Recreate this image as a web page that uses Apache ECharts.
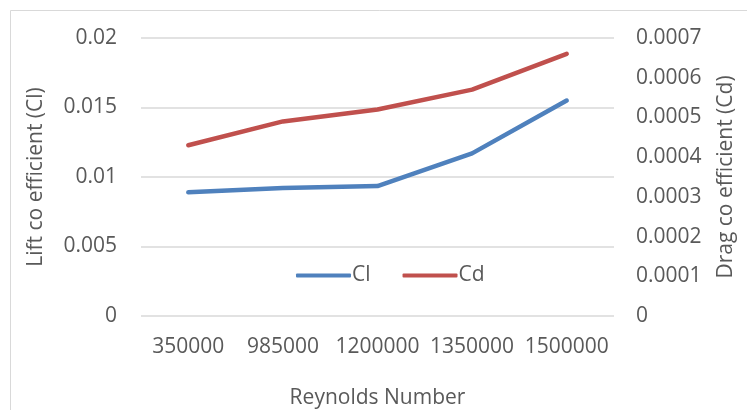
<!DOCTYPE html>
<html>
<head>
<meta charset="utf-8">
<script src="https://cdn.jsdelivr.net/npm/echarts@6/dist/echarts.min.js"></script>
<style>
  html, body { margin: 0; padding: 0; background: #ffffff; }
  #chart { width: 747px; height: 410px; }
</style>
</head>
<body>
<div id="chart"></div>
<script>
// Reynolds number categories and the two coefficient series
const reynolds = ['350000', '985000', '1200000', '1350000', '1500000'];
const liftCl = [0.0089, 0.0092, 0.00935, 0.0117, 0.0155];
const dragCd = [0.00043, 0.00049, 0.00052, 0.00057, 0.00066];

const textColor = '#595959';
const gridColor = '#d9d9d9';
const font = 'Open Sans';
const fs = 21;

const chart = echarts.init(document.getElementById('chart'), null, { renderer: 'canvas' });

chart.setOption({
  animation: false,
  backgroundColor: '#ffffff',
  textStyle: { fontFamily: font },
  graphic: [{
    type: 'rect',
    shape: { x: 10.5, y: 10.5, width: 900, height: 600 },
    style: { fill: 'none', stroke: gridColor, lineWidth: 1 },
    silent: true,
    z: -1
  }],
  grid: {
    left: 141, right: 133, top: 38, bottom: 94,
    containLabel: false, outerBoundsMode: 'none'
  },
  legend: {
    data: ['Cl', 'Cd'],
    left: 291,
    top: 260,
    itemWidth: 55,
    itemHeight: 4,
    itemGap: 32,
    icon: 'roundRect',
    textStyle: { color: textColor, fontSize: fs, fontFamily: font, padding: [0, 0, 0, -4] }
  },
  xAxis: {
    type: 'category',
    data: reynolds,
    boundaryGap: true,
    axisLine: { show: false },
    axisTick: { show: false },
    axisLabel: {
      color: textColor, fontSize: fs, fontFamily: font, margin: 21,
      interval: 0, hideOverlap: false
    },
    name: 'Reynolds Number',
    nameLocation: 'middle',
    nameGap: 72,
    nameTextStyle: { color: textColor, fontSize: fs, fontFamily: font }
  },
  yAxis: [{
    type: 'value',
    min: 0,
    max: 0.02,
    interval: 0.005,
    axisLine: { show: false },
    axisTick: { show: false },
    splitLine: { lineStyle: { color: gridColor, width: 1.5 } },
    axisLabel: { color: textColor, fontSize: fs, fontFamily: font, margin: 24 },
    name: 'Lift co efficient (Cl)',
    nameLocation: 'middle',
    nameGap: 94,
    nameRotate: 90,
    nameTextStyle: { color: textColor, fontSize: fs, fontFamily: font }
  }, {
    type: 'value',
    min: 0,
    max: 0.0007,
    interval: 0.0001,
    axisLine: { show: false },
    axisTick: { show: false },
    splitLine: { show: false },
    axisLabel: {
      color: textColor, fontSize: fs, fontFamily: font, margin: 22,
      formatter: v => v === 0 ? '0' : v.toFixed(4)
    },
    name: 'Drag co efficient (Cd)',
    nameLocation: 'middle',
    nameGap: 102,
    nameRotate: 90,
    nameTextStyle: { color: textColor, fontSize: fs, fontFamily: font }
  }],
  series: [{
    name: 'Cl',
    type: 'line',
    data: liftCl,
    yAxisIndex: 0,
    symbol: 'none',
    lineStyle: { color: '#4f81bd', width: 4.5, cap: 'round', join: 'round' },
    itemStyle: { color: '#4f81bd' }
  }, {
    name: 'Cd',
    type: 'line',
    data: dragCd,
    yAxisIndex: 1,
    symbol: 'none',
    lineStyle: { color: '#c0504d', width: 4.5, cap: 'round', join: 'round' },
    itemStyle: { color: '#c0504d' }
  }]
});
</script>
</body>
</html>
